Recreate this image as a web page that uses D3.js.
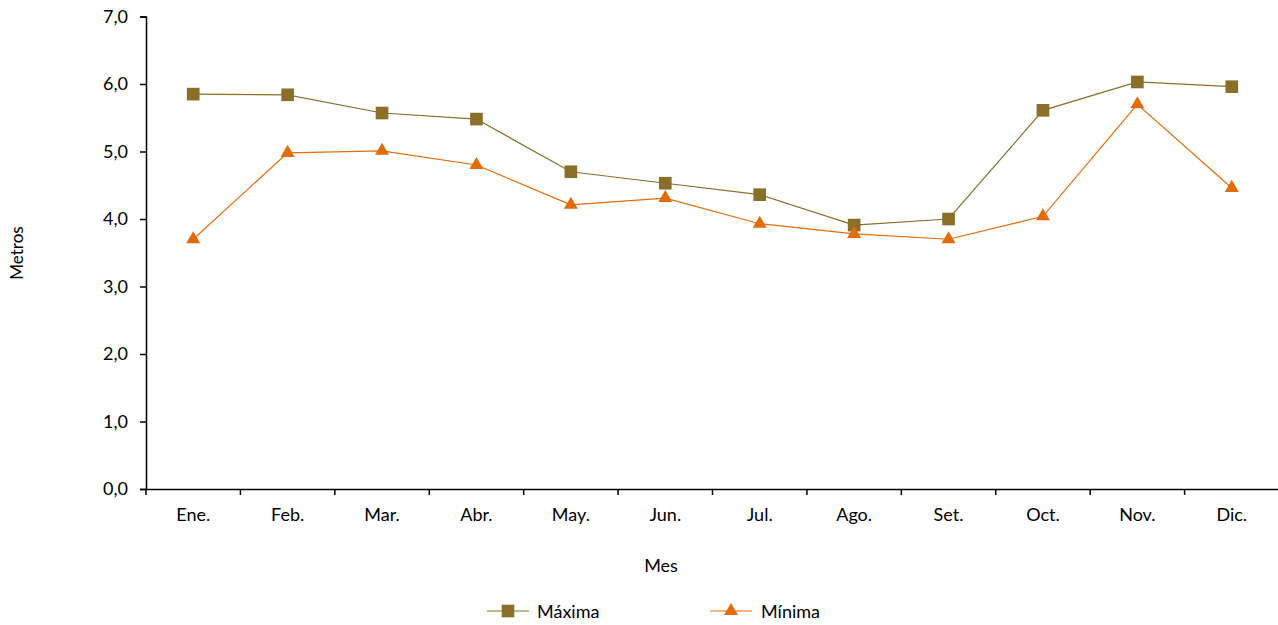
<!DOCTYPE html>
<html><head><meta charset="utf-8">
<script src="https://cdn.jsdelivr.net/npm/d3@7"></script>
<style>body{margin:0;background:#fff}svg text{font-family:Lato,"Open Sans",sans-serif;fill:#000}</style>
</head><body>
<svg id="c" width="1278" height="625"></svg>
<script>
const months = ["Ene.","Feb.","Mar.","Abr.","May.","Jun.","Jul.","Ago.","Set.","Oct.","Nov.","Dic."];
const maxima = [5.85,5.84,5.57,5.48,4.70,4.53,4.36,3.91,4.00,5.61,6.03,5.96];
const minima = [3.70,4.98,5.01,4.80,4.21,4.31,3.93,3.78,3.70,4.04,5.70,4.46];
const yTicks = [0,1,2,3,4,5,6,7];
const colMax = "#8A6F28", colMin = "#E36C0A";

const svg = d3.select("#c");
const x = d3.scaleBand().domain(months).range([146,1279]);
const y = d3.scaleLinear().domain([0,7]).range([489,16.5]);
const fmt = v => d3.format(".1f")(v).replace(".",",");

const yAxis = svg.append("g").attr("transform","translate(146,0)")
  .call(d3.axisLeft(y).tickValues(yTicks).tickFormat(fmt).tickSize(6).tickPadding(12));
const xAxis = svg.append("g").attr("transform","translate(0,489)")
  .call(d3.axisBottom(x).tickSize(0).tickPadding(19));
const bounds = d3.range(13).map(i => 146 + i*x.step());
xAxis.selectAll(".bt").data(bounds).enter().append("line")
  .attr("x1",d=>d).attr("x2",d=>d).attr("y1",0).attr("y2",6).attr("stroke","#000").attr("stroke-width",1.5);
[yAxis,xAxis].forEach(a=>{
  a.select(".domain").attr("stroke","#000").attr("stroke-width",1.5);
  a.selectAll(".tick line").attr("stroke","#000").attr("stroke-width",1.5);
  a.selectAll("text").style("font-size","18px").attr("fill","#000");
});

const line = d3.line().x((d,i)=>x(months[i])+x.bandwidth()/2).y(d=>y(d));
svg.append("path").attr("d",line(maxima)).attr("fill","none").attr("stroke",colMax).attr("stroke-width",1.2);
svg.append("path").attr("d",line(minima)).attr("fill","none").attr("stroke",colMin).attr("stroke-width",1.2);

const sq = d3.symbol().type(d3.symbolSquare).size(160);
const tri = d3.symbol().type(d3.symbolTriangle).size(85);
svg.selectAll(".mx").data(maxima).enter().append("path")
  .attr("d",sq).attr("fill",colMax)
  .attr("transform",(d,i)=>`translate(${x(months[i])+x.bandwidth()/2},${y(d)})`);
svg.selectAll(".mn").data(minima).enter().append("path")
  .attr("d",tri).attr("fill",colMin)
  .attr("transform",(d,i)=>`translate(${x(months[i])+x.bandwidth()/2},${y(d)})`);

svg.append("text").attr("transform","translate(23,253) rotate(-90)").attr("text-anchor","middle")
  .style("font-size","17px").text("Metros");
svg.append("text").attr("x",661).attr("y",572).attr("text-anchor","middle").style("font-size","18px").text("Mes");

const lg = svg.append("g");
lg.append("line").attr("x1",487).attr("x2",529).attr("y1",611).attr("y2",611).attr("stroke",colMax).attr("stroke-width",1.2);
lg.append("path").attr("d",sq).attr("fill",colMax).attr("transform","translate(508,611)");
lg.append("text").attr("x",537).attr("y",618).style("font-size","18px").text("Máxima");
lg.append("line").attr("x1",710).attr("x2",752).attr("y1",611).attr("y2",611).attr("stroke",colMin).attr("stroke-width",1.2);
lg.append("path").attr("d",tri).attr("fill",colMin).attr("transform","translate(731,611)");
lg.append("text").attr("x",761).attr("y",618).style("font-size","18px").text("Mínima");
</script>
</body></html>
